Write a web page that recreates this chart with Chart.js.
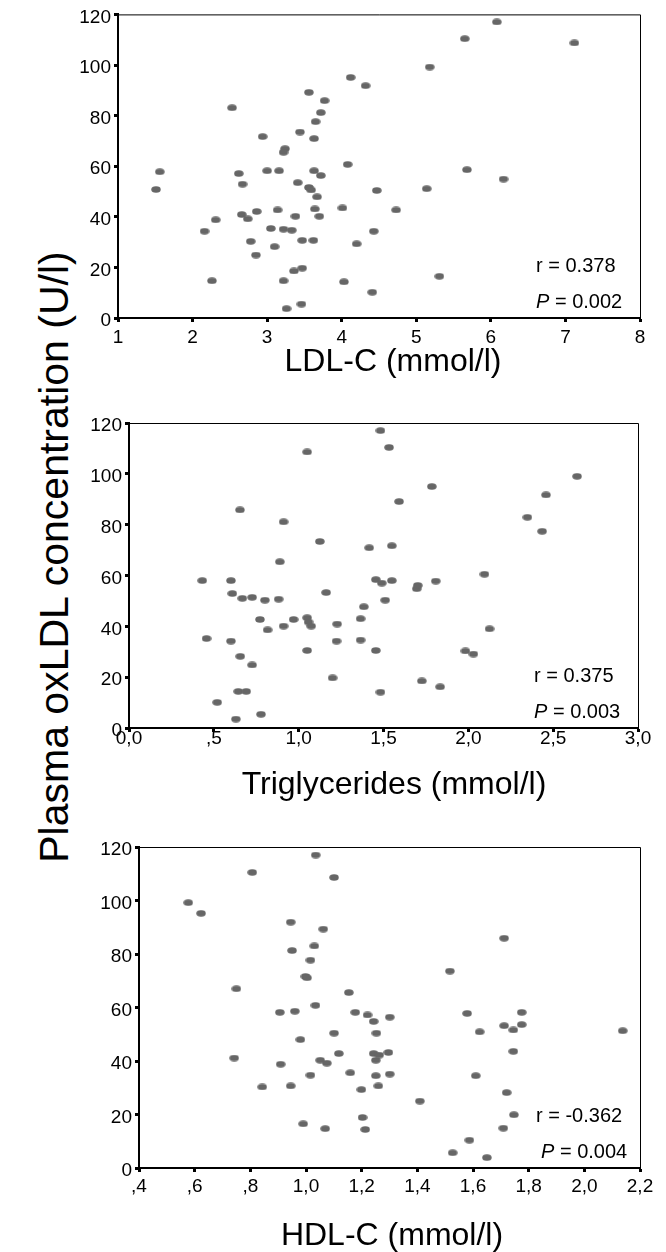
<!DOCTYPE html>
<html>
<head>
<meta charset="utf-8">
<script src="https://cdn.jsdelivr.net/npm/chart.js@4.4.1/dist/chart.umd.min.js"></script>
<style>
  html, body { margin: 0; padding: 0; background: #fff; overflow: hidden; }
  body { width: 666px; height: 1252px; position: relative; font-family: "Liberation Sans", Arial, sans-serif; }
  canvas { position: absolute; left: 0; }
  #ytitle {
    position: absolute; left: 54px; top: 557px;
    transform: translate(-50%, -50%) rotate(-90deg);
    white-space: nowrap; font-size: 41px; color: #000;
  }
</style>
</head>
<body>
<div id="ytitle">Plasma oxLDL concentration (U/l)</div>
<canvas id="c-ldl" width="666" height="385" style="top:0px"></canvas>
<canvas id="c-tg" width="666" height="405" style="top:400px"></canvas>
<canvas id="c-hdl" width="666" height="422" style="top:830px"></canvas>
<script>
// shared y axis
const yTicks = [0, 20, 40, 60, 80, 100, 120];

// LDL-C panel
const ldlTicks = [1, 2, 3, 4, 5, 6, 7, 8];
const ldlTickLabels = ['1', '2', '3', '4', '5', '6', '7', '8'];
const ldlX = [4.12, 4.32, 3.56, 3.77, 3.72, 2.53, 3.65, 3.44, 2.94, 3.63, 3.24, 3.22, 4.08, 1.56, 2.62, 3.00,
  3.16, 3.63, 3.72, 2.67, 3.41, 3.56, 3.59, 1.51, 3.67, 4.47, 4.01, 3.14, 3.64, 2.86, 2.66, 2.74, 2.31, 3.38,
  3.70, 2.16, 3.05, 3.22, 3.33, 4.43, 2.78, 3.47, 3.62, 4.20, 3.10, 2.85, 3.36, 3.47, 2.26, 3.22, 4.03, 4.41,
  3.26, 3.46, 6.08, 5.65, 7.12, 5.18, 5.68, 6.17, 5.14, 4.73, 5.31];
const ldlY = [95.1, 91.8, 89.2, 85.9, 81.2, 83.1, 77.6, 73.5, 71.7, 70.9, 66.9, 65.5, 60.7, 57.8, 57.1, 58.2,
  58.2, 58.2, 56.3, 52.9, 53.5, 51.6, 50.6, 50.8, 47.9, 50.4, 43.5, 42.7, 43.1, 42.1, 40.9, 39.2, 38.8, 40.2,
  40.2, 34.3, 35.4, 35.1, 34.7, 34.3, 30.3, 30.7, 30.7, 29.3, 28.2, 24.9, 18.6, 19.7, 14.7, 14.7, 14.3, 10.2,
  3.7, 5.5, 117.0, 110.4, 108.7, 99.2, 58.6, 54.9, 51.1, 42.7, 16.5];

// Triglycerides panel
const tgTicks = [0, 0.5, 1, 1.5, 2, 2.5, 3];
const tgTickLabels = ['0,0', ',5', '1,0', '1,5', '2,0', '2,5', '3,0'];
const tgX = [0.432, 0.457, 0.520, 0.601, 0.609, 0.601, 0.630, 0.644, 0.654, 0.656, 0.668, 0.691, 0.726, 0.726,
  0.772, 0.778, 0.801, 0.817, 0.882, 0.889, 0.911, 0.911, 0.970, 1.050, 1.050, 1.058, 1.074, 1.050, 1.125,
  1.162, 1.200, 1.227, 1.223, 1.365, 1.365, 1.384, 1.416, 1.455, 1.455, 1.482, 1.482, 1.490, 1.510, 1.533,
  1.549, 1.549, 1.592, 1.696, 1.702, 1.726, 1.785, 1.808, 1.834, 1.983, 2.030, 2.095, 2.125, 2.348, 2.435,
  2.458, 2.641];
const tgY = [58.0, 35.2, 10.1, 58.0, 52.9, 34.2, 3.5, 14.4, 85.8, 28.2, 51.0, 14.4, 51.4, 24.8,
  42.7, 5.4, 50.3, 38.6, 50.7, 65.4, 81.1, 40.1, 42.7, 108.6, 43.4, 41.7, 40.1, 30.5, 73.4,
  53.3, 19.7, 40.9, 34.2, 43.0, 34.6, 47.7, 70.9, 58.4, 30.5, 117.0, 14.1, 57.0, 50.3, 110.4,
  71.7, 58.0, 89.1, 54.8, 56.1, 18.5, 95.0, 57.8, 16.2, 30.3, 29.1, 60.5, 39.0, 82.9, 77.4,
  91.7, 99.0];

// HDL-C panel
const hdlTicks = [0.4, 0.6, 0.8, 1.0, 1.2, 1.4, 1.6, 1.8, 2.0, 2.2];
const hdlTickLabels = [',4', ',6', ',8', '1,0', '1,2', '1,4', '1,6', '1,8', '2,0', '2,2'];
const hdlX = [1.035, 0.807, 1.101, 0.577, 0.623, 0.945, 1.062, 0.950, 1.030, 1.016, 0.998, 1.004, 0.750, 1.154,
  1.034, 0.906, 0.960, 1.177, 1.221, 1.243, 1.253, 1.101, 0.980, 0.742, 1.118, 1.051, 1.075, 0.909, 1.243,
  1.251, 1.263, 1.016, 1.159, 1.251, 0.843, 0.945, 1.199, 1.260, 0.990, 1.069, 1.203, 1.213, 1.301, 1.296,
  1.301, 1.409, 1.517, 1.579, 1.624, 1.610, 1.712, 1.712, 1.745, 1.775, 1.775, 1.745, 1.721, 1.747, 1.709,
  1.587, 1.527, 1.650, 2.138];
const hdlY = [117.0, 110.5, 108.6, 99.2, 95.2, 91.9, 89.3, 81.3, 83.0, 77.7, 71.6, 71.1, 67.0, 65.6,
  60.8, 58.2, 58.6, 58.2, 57.2, 54.8, 50.4, 50.4, 48.0, 41.1, 42.8, 40.3, 39.2, 38.8, 42.8,
  40.3, 42.2, 34.7, 35.6, 34.5, 30.3, 30.7, 29.3, 30.7, 16.5, 14.7, 18.9, 14.4, 56.4, 43.2,
  35.1, 25.0, 73.6, 57.8, 50.9, 34.5, 85.9, 53.2, 51.6, 58.2, 53.6, 43.6, 28.2, 19.9, 14.9,
  10.4, 5.7, 3.9, 51.3];

const FONT = '"Liberation Sans", Arial, sans-serif';

// grey oval marker like the SPSS dots
const dot = document.createElement('canvas');
dot.width = 10;
dot.height = 7;
{
  const d = dot.getContext('2d');
  d.fillStyle = '#666';
  d.beginPath();
  d.ellipse(5, 3.5, 4.7, 3.3, 0, 0, Math.PI * 2);
  d.fill();
}

// top/right frame, x title, r / P text
const framePlugin = {
  id: 'frame',
  afterDatasetsDraw(chart, args, opts) {
    const {ctx, chartArea: a} = chart;
    ctx.save();
    ctx.strokeStyle = '#000';
    ctx.lineWidth = 1;
    ctx.beginPath();
    ctx.moveTo(a.left, a.top + 0.5);
    ctx.lineTo(a.right + 0.5, a.top + 0.5);
    ctx.lineTo(a.right + 0.5, a.bottom);
    ctx.stroke();

    ctx.fillStyle = '#000';
    ctx.textBaseline = 'middle';
    ctx.textAlign = 'left';
    const x = a.right - 104;
    ctx.font = '20px ' + FONT;
    ctx.fillText(opts.r, x, a.bottom - 52);
    ctx.font = 'italic 20px ' + FONT;
    const px = x + (opts.pShift || 0);
    ctx.fillText('P', px, a.bottom - 16);
    const w = ctx.measureText('P').width;
    ctx.font = '20px ' + FONT;
    ctx.fillText(' = ' + opts.p, px + w, a.bottom - 16);

    // axis title (sits a bit right of the plot centre in the original)
    ctx.textAlign = 'center';
    ctx.font = '32px ' + FONT;
    ctx.fillText(opts.title, opts.titleX, opts.titleY);
    ctx.restore();
  }
};

function makePanel(id, xs, ys, g) {
  const ctx = document.getElementById(id).getContext('2d');
  const axisGrid = {display: true, drawOnChartArea: false, drawTicks: true, tickLength: 4, tickWidth: 3, tickColor: '#000'};
  const axisBorder = {display: true, color: '#000', width: 2};
  return new Chart(ctx, {
    type: 'scatter',
    data: {
      datasets: [{
        data: xs.map((x, i) => ({x, y: ys[i]})),
        pointStyle: dot,
        pointRadius: 4,
        clip: false
      }]
    },
    options: {
      responsive: false,
      animation: false,
      layout: {padding: {top: g.padTop, right: g.padRight, left: 0, bottom: 0}},
      plugins: {
        legend: {display: false},
        tooltip: {enabled: false},
        frame: {r: g.r, p: g.p, pShift: g.pShift, title: g.title, titleX: g.titleX, titleY: g.titleY}
      },
      scales: {
        x: {
          type: 'linear',
          min: g.ticks[0],
          max: g.ticks[g.ticks.length - 1],
          afterBuildTicks: s => { s.ticks = g.ticks.map(v => ({value: v})); },
          afterFit: s => { s.height = g.xH; },
          ticks: {
            callback: (v, i) => g.labels[i],
            color: '#000', font: {family: FONT, size: 19},
            padding: g.xPad, maxRotation: 0, autoSkip: false
          },
          grid: axisGrid,
          border: axisBorder
        },
        y: {
          type: 'linear',
          min: 0,
          max: 120,
          afterBuildTicks: s => { s.ticks = yTicks.map(v => ({value: v})); },
          afterFit: s => { s.width = g.yW; },
          ticks: {
            color: '#000', font: {family: FONT, size: 19},
            padding: 3, labelOffset: 3
          },
          grid: axisGrid,
          border: axisBorder
        }
      }
    },
    plugins: [framePlugin]
  });
}

makePanel('c-ldl', ldlX, ldlY, {
  ticks: ldlTicks, labels: ldlTickLabels, title: 'LDL-C (mmol/l)', titleX: 393, titleY: 362,
  yW: 118, padTop: 12, padRight: 26, xH: 67, xPad: 4,
  r: 'r = 0.378', p: '0.002'
});
makePanel('c-tg', tgX, tgY, {
  ticks: tgTicks, labels: tgTickLabels, title: 'Triglycerides (mmol/l)', titleX: 394, titleY: 385,
  yW: 129, padTop: 23, padRight: 28, xH: 77, xPad: -5,
  r: 'r = 0.375', p: '0.003'
});
makePanel('c-hdl', hdlX, hdlY, {
  ticks: hdlTicks, labels: hdlTickLabels, title: 'HDL-C (mmol/l)', titleX: 392, titleY: 406,
  yW: 139, padTop: 17, padRight: 26, xH: 84, xPad: 3,
  r: 'r = -0.362', p: '0.004', pShift: 5
});
</script>
</body>
</html>
